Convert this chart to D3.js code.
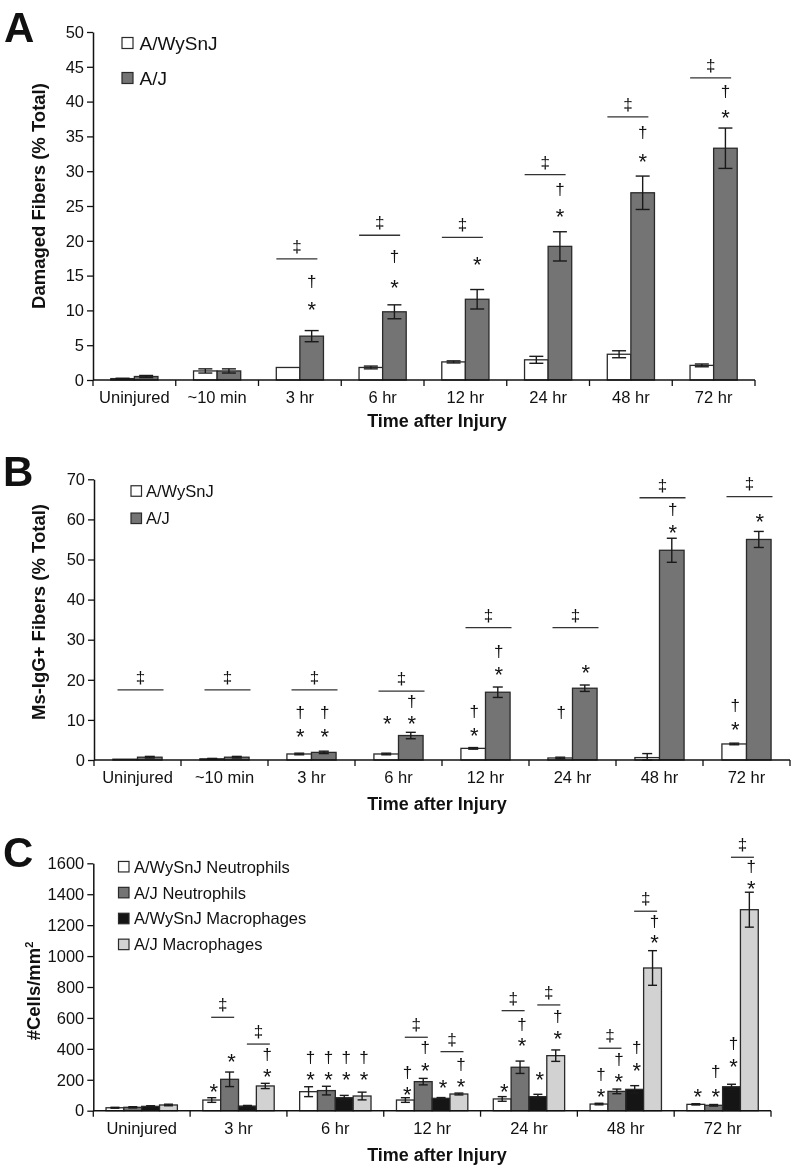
<!DOCTYPE html>
<html><head><meta charset="utf-8">
<script src="https://cdn.jsdelivr.net/npm/d3@7"></script>
<style>
body{margin:0;background:#fff}
svg text{font-family:"Liberation Sans",Arial,Helvetica,sans-serif;fill:#111}
.gray{opacity:0.999}
</style>
</head><body>
<svg id="chart" width="792" height="1169"></svg>
<script>
// ---------- Panel A data ----------
const catsA = ["Uninjured","~10 min","3 hr","6 hr","12 hr","24 hr","48 hr","72 hr"];
const seriesNamesA = ["A/WySnJ","A/J"];
const aWy    = [0.2,1.3,1.8,1.8,2.6,2.9,3.7,2.1];
const aWyErr = [0.05,0.3,0,0.2,0.15,0.5,0.5,0.2];
const aJ     = [0.5,1.3,6.3,9.8,11.6,19.2,26.9,33.3];
const aJErr  = [0.15,0.3,0.8,1.0,1.4,2.1,2.4,2.9];
const ticksA = [0,5,10,15,20,25,30,35,40,45,50];
// significance bars (‡): category, height (data units)
const aSigCats = ["3 hr","6 hr","12 hr","24 hr","48 hr","72 hr"];
const aSigVals = [17.4,20.8,20.5,29.5,37.8,43.4];
// symbols: [category, series index, symbol, height]
const aSyms = [
  ["3 hr",1,"†",14.1],["3 hr",1,"*",10.9],
  ["6 hr",1,"†",17.7],["6 hr",1,"*",14.1],
  ["12 hr",1,"*",17.4],
  ["24 hr",1,"†",27.3],["24 hr",1,"*",24.2],
  ["48 hr",1,"†",35.5],["48 hr",1,"*",32.1],
  ["72 hr",1,"†",41.4],["72 hr",1,"*",38.5]
];

// ---------- Panel B data ----------
const catsB = ["Uninjured","~10 min","3 hr","6 hr","12 hr","24 hr","48 hr","72 hr"];
const seriesNamesB = ["A/WySnJ","A/J"];
const bWy    = [0.2,0.3,1.5,1.5,2.9,0.5,0.6,4.0];
const bWyErr = [0,0.1,0.2,0.2,0.2,0.2,1.0,0.2];
const bJ     = [0.7,0.7,1.9,6.1,16.9,17.9,52.3,55.0];
const bJErr  = [0.2,0.2,0.3,0.8,1.3,0.8,3.0,2.0];
const ticksB = [0,10,20,30,40,50,60,70];
const bSigCats = ["Uninjured","~10 min","3 hr","6 hr","12 hr","24 hr","48 hr","72 hr"];
const bSigVals = [17.5,17.5,17.5,17.2,33,33,65.4,65.7];
const bSyms = [
  ["3 hr",0,"†",11.6],["3 hr",0,"*",7.1],["3 hr",1,"†",11.6],["3 hr",1,"*",7.1],
  ["6 hr",0,"*",10.4],["6 hr",1,"†",14.5],["6 hr",1,"*",10.4],
  ["12 hr",0,"†",12.0],["12 hr",0,"*",7.5],["12 hr",1,"†",27.0],["12 hr",1,"*",22.6],
  ["24 hr",0,"†",11.6],["24 hr",1,"*",23.1],
  ["48 hr",1,"†",62.3],["48 hr",1,"*",58.0],
  ["72 hr",0,"†",13.5],["72 hr",0,"*",9.0],["72 hr",1,"*",60.8]
];

// ---------- Panel C data ----------
const catsC = ["Uninjured","3 hr","6 hr","12 hr","24 hr","48 hr","72 hr"];
const seriesNamesC = ["A/WySnJ Neutrophils","A/J Neutrophils","A/WySnJ Macrophages","A/J Macrophages"];
const cWyN    = [19,69,123,69,76,43,41];
const cWyNErr = [3,15,32,15,15,5,4];
const cJN     = [22,203,130,188,281,125,35];
const cJNErr  = [4,47,28,21,40,15,5];
const cWyM    = [28,30,84,80,91,138,155];
const cWyMErr = [4,4,15,5,15,24,16];
const cJM     = [37,160,95,108,356,923,1300];
const cJMErr  = [5,17,25,6,37,112,113];
const ticksC = [0,200,400,600,800,1000,1200,1400,1600];
// ‡ bars over a pair of bars: [category, pair (0 = neutrophils, 1 = macrophages), height]
const cSig = [
  ["3 hr",0,604],["3 hr",1,431],
  ["12 hr",0,475],["12 hr",1,382],
  ["24 hr",0,647],["24 hr",1,684],
  ["48 hr",0,404],["48 hr",1,1290],
  ["72 hr",1,1639]
];
const cSyms = [
  ["3 hr",0,"*",155],["3 hr",1,"*",354],["3 hr",3,"†",360],["3 hr",3,"*",252],
  ["6 hr",0,"†",339],["6 hr",0,"*",237],["6 hr",1,"†",339],["6 hr",1,"*",237],
  ["6 hr",2,"†",339],["6 hr",2,"*",237],["6 hr",3,"†",339],["6 hr",3,"*",237],
  ["12 hr",0,"†",242],["12 hr",0,"*",138],["12 hr",1,"†",404],["12 hr",1,"*",296],
  ["12 hr",2,"*",181],["12 hr",3,"†",296],["12 hr",3,"*",188],
  ["24 hr",0,"*",155],["24 hr",1,"†",554],["24 hr",1,"*",457],["24 hr",2,"*",237],
  ["24 hr",3,"†",608],["24 hr",3,"*",504],
  ["48 hr",0,"†",231],["48 hr",0,"*",123],["48 hr",1,"†",328],["48 hr",1,"*",224],
  ["48 hr",2,"†",404],["48 hr",2,"*",296],["48 hr",3,"†",1222],["48 hr",3,"*",1121],
  ["72 hr",0,"*",129],["72 hr",1,"†",248],["72 hr",1,"*",129],
  ["72 hr",2,"†",431],["72 hr",2,"*",323],["72 hr",3,"†",1574],["72 hr",3,"*",1471]
];

const FILL_WHITE = "#ffffff", FILL_DARK = "#747474", FILL_BLACK = "#151515", FILL_LIGHT = "#d2d2d2";

const svg = d3.select("#chart");

function drawPanel(p){
  const g = svg.append("g").attr("class", "gray");
  const y = d3.scaleLinear().domain([0, p.yMax]).range([p.yBottom, p.yTop]);
  const x = d3.scaleBand().domain(p.cats).range([p.x0, p.x1]);
  const groupW = x.bandwidth() * p.groupFrac;
  const xs = d3.scaleBand().domain(d3.range(p.series.length)).range([0, groupW]);
  const barX = (cat, si) => x(cat) + (x.bandwidth() - groupW) / 2 + xs(si);

  // bars
  p.series.forEach((s, si) => {
    g.selectAll(null).data(p.cats).enter().append("rect")
      .attr("x", d => barX(d, si))
      .attr("y", (d, i) => y(s.values[i]))
      .attr("width", xs.bandwidth())
      .attr("height", (d, i) => p.yBottom - y(s.values[i]))
      .attr("fill", s.fill)
      .attr("stroke", "#2a2a2a").attr("stroke-width", 1.3);
  });
  // error bars
  p.series.forEach((s, si) => {
    p.cats.forEach((c, i) => {
      const e = s.errs[i];
      if (!e) return;
      const cx = barX(c, si) + xs.bandwidth() / 2;
      const yt = y(s.values[i] + e), yb = y(Math.max(0, s.values[i] - e));
      const hw = p.capW / 2;
      g.append("line").attr("x1", cx).attr("x2", cx).attr("y1", yt).attr("y2", yb)
        .attr("stroke", "#1a1a1a").attr("stroke-width", 1.4);
      g.append("line").attr("x1", cx - hw).attr("x2", cx + hw).attr("y1", yt).attr("y2", yt)
        .attr("stroke", "#1a1a1a").attr("stroke-width", 1.4);
      g.append("line").attr("x1", cx - hw).attr("x2", cx + hw).attr("y1", yb).attr("y2", yb)
        .attr("stroke", "#1a1a1a").attr("stroke-width", 1.4);
    });
  });

  // y axis
  const yAxis = d3.axisLeft(y).tickValues(p.ticks).tickFormat(d3.format("d"))
    .tickSize(6).tickSizeOuter(0).tickPadding(3);
  const ya = g.append("g").attr("transform", `translate(${p.x0},0)`).call(yAxis);
  ya.select(".domain").attr("stroke", "#111").attr("stroke-width", 1.5);
  ya.selectAll(".tick line").attr("stroke", "#111").attr("stroke-width", 1.3);
  ya.selectAll(".tick text").attr("font-size", "16.5px").attr("fill", "#222")
    .attr("font-family", '"Liberation Sans",Arial,sans-serif');

  // x axis (ticks on category boundaries)
  const bounds = p.cats.map(c => x(c)).concat([p.x1]);
  g.append("line").attr("x1", p.x0).attr("x2", p.x1).attr("y1", p.yBottom).attr("y2", p.yBottom)
    .attr("stroke", "#111").attr("stroke-width", 1.5);
  g.selectAll(null).data(bounds).enter().append("line")
    .attr("x1", d => d).attr("x2", d => d).attr("y1", p.yBottom).attr("y2", p.yBottom + 6)
    .attr("stroke", "#111").attr("stroke-width", 1.3);
  g.selectAll(null).data(p.cats).enter().append("text")
    .attr("x", d => x(d) + x.bandwidth() / 2).attr("y", p.yBottom + 23)
    .attr("text-anchor", "middle").attr("font-size", "16.5px").attr("fill", "#222").text(d => d);

  // x title
  g.append("text").attr("x", 437).attr("y", p.xTitleY).attr("text-anchor", "middle")
    .attr("font-size", "18px").attr("font-weight", "bold").text("Time after Injury");

  // y title
  const yt = g.append("text")
    .attr("transform", `translate(${p.yTitleX},${p.yTitleY}) rotate(-90)`)
    .attr("text-anchor", "middle").attr("font-size", "18.5px").attr("font-weight", "bold");
  if (p.yTitleSup) {
    yt.append("tspan").text(p.yTitle);
    yt.append("tspan").attr("font-size", "11px").attr("dy", "-7").text(p.yTitleSup);
  } else yt.text(p.yTitle);

  // panel letter
  g.append("text").attr("x", p.letterX).attr("y", p.letterY).attr("font-size", "42px")
    .attr("font-weight", "bold").attr("fill", "#000").text(p.letter);

  // legend
  p.series.forEach((s, si) => {
    const ly = p.legY + si * p.legDy;
    g.append("rect").attr("x", p.legX).attr("y", ly - p.legBox / 2).attr("width", p.legBox).attr("height", p.legBox)
      .attr("fill", s.fill).attr("stroke", "#2a2a2a").attr("stroke-width", 1.2);
    g.append("text").attr("x", p.legX + p.legBox + p.legGap).attr("y", ly)
      .attr("dy", "0.36em").attr("font-size", p.legFont + "px").attr("fill", "#222").text(s.name);
  });

  // significance ‡ bars
  p.sig.forEach(sg => {
    const cx = sg.cx(x, barX, xs);
    const yy = y(sg.v);
    g.append("line").attr("x1", cx - sg.len / 2).attr("x2", cx + sg.len / 2).attr("y1", yy).attr("y2", yy)
      .attr("stroke", "#333").attr("stroke-width", 1.3);
    g.append("text").attr("x", cx).attr("y", yy - 12).attr("dy", "0.29em").attr("text-anchor", "middle")
      .attr("font-size", "17px").attr("fill", "#111").text("‡");
  });

  // symbols
  p.syms.forEach(([c, si, sym, v]) => {
    const cx = barX(c, si) + xs.bandwidth() / 2 + p.symDx;
    const fs = sym === "*" ? 22 : 17;
    const off = sym === "*" ? 0.58 : 0.29;
    g.append("text").attr("x", cx).attr("y", y(v) + off * fs).attr("text-anchor", "middle")
      .attr("font-size", fs + "px").attr("fill", "#111").text(sym);
  });
}

// Panel A
drawPanel({
  letter: "A", letterX: 4, letterY: 42,
  cats: catsA, x0: 93, x1: 755, yTop: 32, yBottom: 380, yMax: 50, ticks: ticksA,
  groupFrac: 0.57, capW: 14, symDx: 0,
  series: [
    {name: seriesNamesA[0], values: aWy, errs: aWyErr, fill: FILL_WHITE},
    {name: seriesNamesA[1], values: aJ, errs: aJErr, fill: FILL_DARK}
  ],
  xTitleY: 427, yTitle: "Damaged Fibers (% Total)", yTitleX: 45, yTitleY: 196,
  legX: 122, legY: 43, legDy: 35, legBox: 11, legGap: 6.5, legFont: 19,
  sig: aSigCats.map((c, i) => ({v: aSigVals[i], len: 41, cx: (x) => x(c) + x.bandwidth() / 2 - 3})),
  syms: aSyms
});

// Panel B
drawPanel({
  letter: "B", letterX: 3, letterY: 486,
  cats: catsB, x0: 94, x1: 790, yTop: 479.3, yBottom: 760, yMax: 70, ticks: ticksB,
  groupFrac: 0.565, capW: 10, symDx: 1,
  series: [
    {name: seriesNamesB[0], values: bWy, errs: bWyErr, fill: FILL_WHITE},
    {name: seriesNamesB[1], values: bJ, errs: bJErr, fill: FILL_DARK}
  ],
  xTitleY: 810, yTitle: "Ms-IgG+ Fibers (% Total)", yTitleX: 45, yTitleY: 612,
  legX: 131, legY: 491, legDy: 27.3, legBox: 10.5, legGap: 4.5, legFont: 16.5,
  sig: bSigCats.map((c, i) => ({v: bSigVals[i], len: 46, cx: (x) => x(c) + x.bandwidth() / 2 + 3})),
  syms: bSyms
});

// Panel C
drawPanel({
  letter: "C", letterX: 3, letterY: 867,
  cats: catsC, x0: 93.3, x1: 771, yTop: 863.3, yBottom: 1110.7, yMax: 1600, ticks: ticksC,
  groupFrac: 0.737, capW: 9, symDx: 2,
  series: [
    {name: seriesNamesC[0], values: cWyN, errs: cWyNErr, fill: FILL_WHITE},
    {name: seriesNamesC[1], values: cJN, errs: cJNErr, fill: FILL_DARK},
    {name: seriesNamesC[2], values: cWyM, errs: cWyMErr, fill: FILL_BLACK},
    {name: seriesNamesC[3], values: cJM, errs: cJMErr, fill: FILL_LIGHT}
  ],
  xTitleY: 1161, yTitle: "#Cells/mm", yTitleSup: "2", yTitleX: 40, yTitleY: 991,
  legX: 118.5, legY: 866.7, legDy: 25.9, legBox: 10.5, legGap: 5, legFont: 16.5,
  sig: cSig.map(([c, pair, v]) => ({v, len: 23,
    cx: (x, barX, xs) => barX(c, pair * 2 + 1) + 2})),
  syms: cSyms
});
</script>
</body></html>
